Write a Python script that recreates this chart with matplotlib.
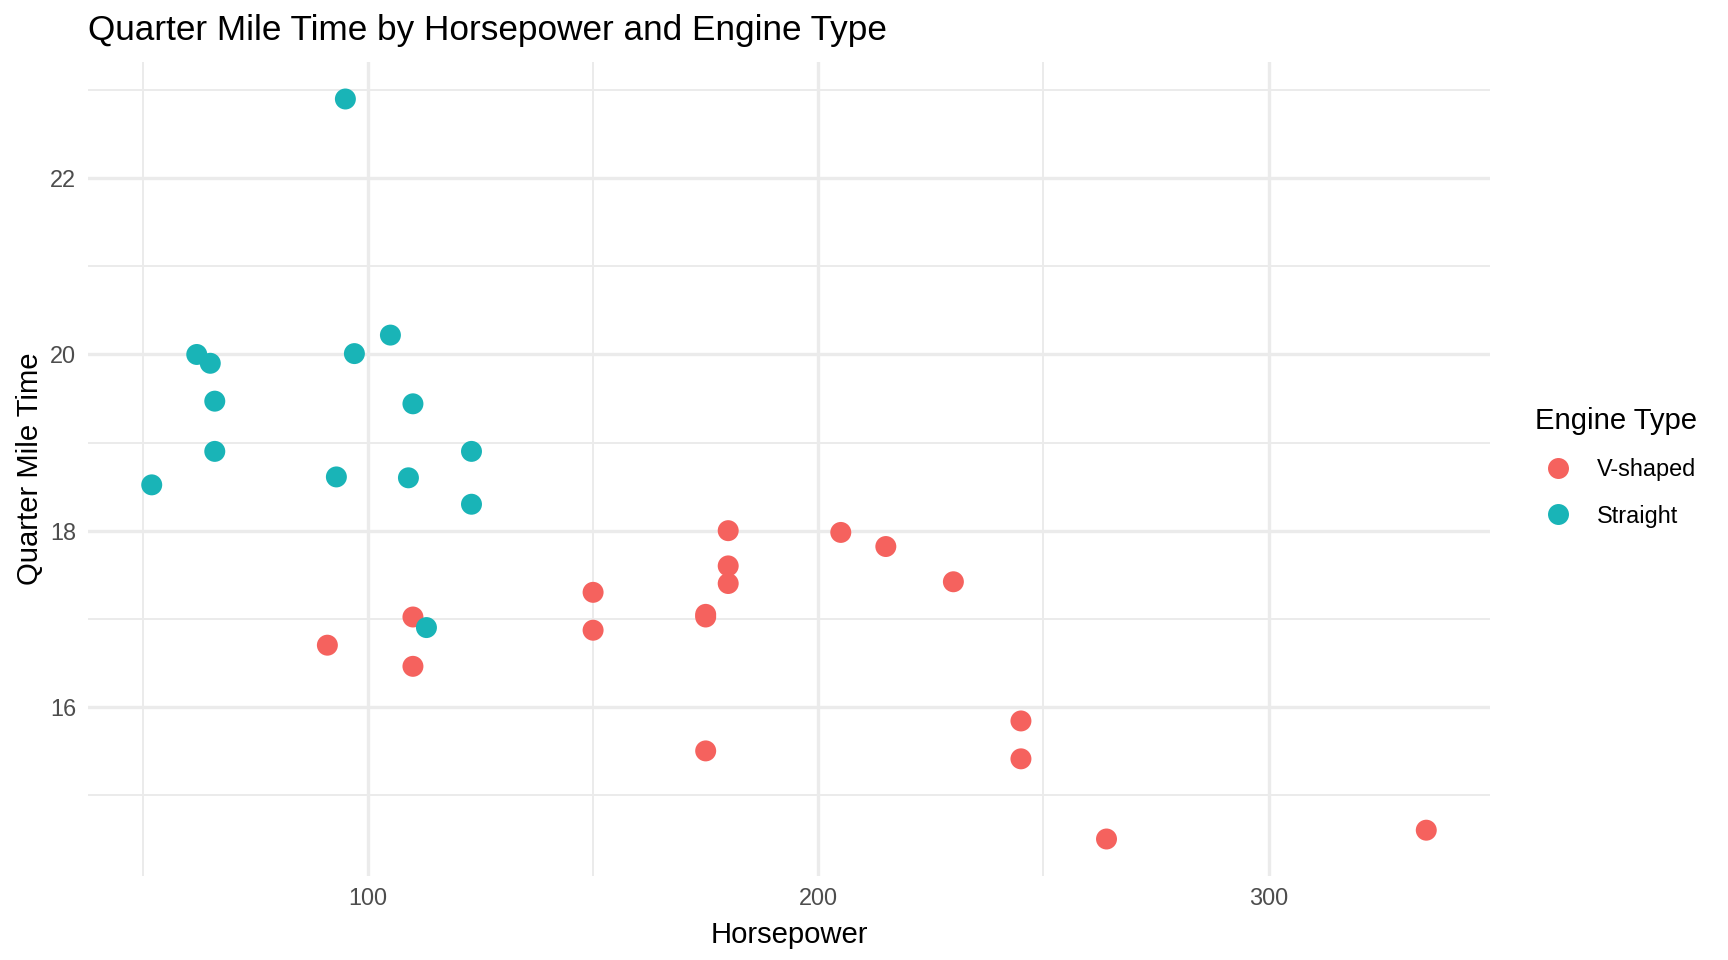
import matplotlib.pyplot as plt
from matplotlib.lines import Line2D

# mtcars: horsepower vs quarter mile time, split by engine shape
hp_v = [110, 110, 175, 245, 180, 180, 180, 205, 215, 230, 150, 150, 245, 175, 91, 264, 175, 335]
qsec_v = [16.46, 17.02, 17.02, 15.84, 17.40, 17.60, 18.00, 17.98, 17.82, 17.42,
          16.87, 17.30, 15.41, 17.05, 16.70, 14.50, 15.50, 14.60]
hp_s = [93, 110, 105, 62, 95, 123, 123, 66, 52, 65, 97, 66, 113, 109]
qsec_s = [18.61, 19.44, 20.22, 20.00, 22.90, 18.30, 18.90, 19.47, 18.52, 19.90,
          20.01, 18.90, 16.90, 18.60]
groups = ['V-shaped', 'Straight']
colors = ['#F5625E', '#19B4B7']
x_major = [100, 200, 300]
x_minor = [50, 150, 250]
y_major = [16, 18, 20, 22]
y_minor = [15, 17, 19, 21, 23]

plt.rcParams['font.family'] = ['Liberation Sans', 'DejaVu Sans']

W, H = 1728, 960
fig = plt.figure(figsize=(W / 100, H / 100), dpi=100)
L, R, T, B = 88, 1490, 62, 876
ax = fig.add_axes([L / W, 1 - B / H, (R - L) / W, (B - T) / H])

# grid (theme_minimal look)
for v in x_minor:
    ax.axvline(v, color='#EBEBEB', lw=1.4, zorder=0)
for v in y_minor:
    ax.axhline(v, color='#EBEBEB', lw=1.4, zorder=0)
for v in x_major:
    ax.axvline(v, color='#EBEBEB', lw=2.4, zorder=0)
for v in y_major:
    ax.axhline(v, color='#EBEBEB', lw=2.4, zorder=0)

ax.scatter(hp_v, qsec_v, s=228, color=colors[0], edgecolors='none', zorder=3)
ax.scatter(hp_s, qsec_s, s=228, color=colors[1], edgecolors='none', zorder=3)

xall = hp_v + hp_s
yall = qsec_v + qsec_s
xr = max(xall) - min(xall)
yr = max(yall) - min(yall)
ax.set_xlim(min(xall) - 0.05 * xr, max(xall) + 0.05 * xr)
ax.set_ylim(min(yall) - 0.05 * yr, max(yall) + 0.05 * yr)

ax.set_xticks(x_major)
ax.set_yticks(y_major)
ax.tick_params(length=0, labelsize=16.9, labelcolor='#4D4D4D')
ax.tick_params(axis='x', pad=8)
ax.tick_params(axis='y', pad=8.7)
for s in ax.spines.values():
    s.set_visible(False)

ax.set_xlabel('Horsepower', fontsize=21.1, labelpad=8)
ax.set_ylabel('Quarter Mile Time', fontsize=21.1, labelpad=4.5)
ax.set_title('Quarter Mile Time by Horsepower and Engine Type', fontsize=25.3,
             loc='left', pad=16)

handles = [Line2D([], [], marker='o', linestyle='none', markersize=15.1,
                  markerfacecolor=c, markeredgecolor='none') for c in colors]
leg = fig.legend(handles, groups, title='Engine Type', loc='upper left',
                 bbox_to_anchor=(1523 / W, 1 - 395 / H), frameon=False,
                 fontsize=16.9, title_fontsize=21.1, handletextpad=0.65,
                 labelspacing=1.0, borderpad=0)
leg._legend_box.align = 'left'

fig.savefig('out.png', dpi=100)
